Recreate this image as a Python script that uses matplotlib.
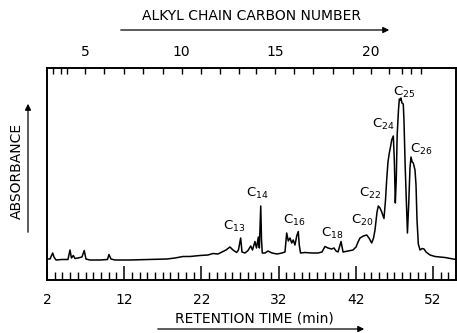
import numpy as np
import matplotlib
matplotlib.use("Agg")
import matplotlib.pyplot as plt

# trace : temps de retention (min) et absorbance (unites arbitraires)
retention_time = [
    2.04, 2.39, 2.74, 2.91, 3.17, 3.94, 4.72, 4.98, 5.17, 5.41, 5.63, 6.02, 6.53, 6.83,
    7.05, 7.57, 8.87, 9.84, 10.03, 10.29, 10.81, 12.75, 15.34, 17.54, 18.58, 19.62,
    20.52, 21.82, 22.85, 23.50, 24.15, 24.67, 25.19, 25.70, 26.09, 26.57, 26.80, 27.09,
    27.26, 27.65, 28.04, 28.39, 28.62, 28.94, 29.14, 29.38, 29.51, 29.69, 29.79, 29.89,
    30.24, 30.63, 31.15, 31.80, 32.44, 32.83, 33.05, 33.26, 33.48, 33.70, 33.90, 34.12,
    34.35, 34.55, 34.68, 34.84, 35.42, 36.33, 37.10, 37.62, 38.01, 38.40, 38.88, 39.18,
    39.44, 39.70, 40.09, 40.35, 40.99, 41.64, 42.03, 42.29, 42.55, 42.98, 43.41, 43.71,
    44.06, 44.30, 44.49, 44.75, 44.92, 45.14, 45.36, 45.65, 45.85, 46.00, 46.17, 46.34,
    46.52, 46.65, 46.86, 46.99, 47.12, 47.24, 47.36, 47.53, 47.64, 47.77, 47.85, 47.98,
    48.15, 48.24, 48.40, 48.57, 48.69, 48.85, 49.02, 49.15, 49.30, 49.45, 49.67, 49.80,
    49.93, 50.10, 50.32, 50.58, 50.84, 51.10, 51.61, 52.26, 53.55, 54.98,
]
absorbance = [
    1, 1, 7, 3, 0, 0.5, 0.5, 10, 2, 4.5, 1.5, 2, 3, 9.5,
    1, 0, 0, 0.5, 5.5, 1, 0, 0, 0.5, 1, 2, 3.5,
    3.5, 4.5, 5, 6.5, 6, 8, 10, 13, 10, 7.5, 10, 22,
    8, 7, 9.5, 14, 10, 18.5, 12, 23, 12, 54, 20, 7,
    7, 9, 7, 6, 7, 8, 27, 19, 22, 17, 20, 15,
    24, 28.5, 15, 7, 7.5, 7, 7, 8, 13.5, 12, 11, 12,
    9, 8, 18.5, 8, 9, 10, 13, 18, 22, 24, 25, 22,
    17, 22, 30, 48, 54, 52, 48, 41.5, 60, 80, 98, 107,
    114, 120, 124, 100, 57, 80, 125, 150, 161, 160, 162, 157,
    156, 140, 93, 55, 27, 55, 92, 103, 98, 97, 90, 75,
    40, 16, 10, 11.5, 11, 8, 5, 3.5, 2.5, 0.5,
]

# axe du haut : nombre de carbones de la chaine alkyle -> temps de retention
carbon_number = list(range(2, 25))
carbon_time = [
    2.74, 3.77, 4.63, 6.96, 9.42, 11.97, 14.47, 16.99, 19.45, 21.95, 24.41, 26.87,
    29.07, 31.53, 34.03, 36.49, 39.09, 41.60, 43.97, 46.30, 47.95, 49.15, 50.45,
]
carbon_labelled = [5, 10, 15, 20]

# etiquettes des pics
peak_names = ["13", "14", "16", "18", "20", "22", "24", "25", "26"]
peak_time = [26.22, 29.20, 33.99, 38.92, 42.80, 43.84, 45.52, 48.24, 50.45]
peak_height = [34, 67, 40, 27, 40, 67, 136, 168, 111]

W, H = 457, 333
fig = plt.figure(figsize=(W / 100, H / 100), dpi=100)
ax = fig.add_axes([46.5 / W, 1 - 280 / H, 409.5 / W, 212.5 / H])

ax.plot(retention_time, absorbance, color="black", lw=1.1)
ax.set_xlim(1.94, 54.98)
ax.set_ylim(-20, 192.5)

ax.set_xticks(np.arange(2, 53, 10))
ax.set_xticks(np.arange(2, 55, 1), minor=True)
ax.set_yticks([])
ax.tick_params(axis="x", which="major", direction="in", length=10, width=1.1,
               labelsize=10, pad=9)
ax.tick_params(axis="x", which="minor", direction="in", length=6, width=1.0)
for s in ax.spines.values():
    s.set_linewidth(1.4)

top = ax.twiny()
top.set_xlim(ax.get_xlim())
top.set_xticks(carbon_time)
top.set_xticklabels([str(c) if c in carbon_labelled else "" for c in carbon_number])
top.tick_params(axis="x", direction="in", length=4.5, width=1.0, labelsize=10, pad=6)
for s in top.spines.values():
    s.set_visible(False)

for name, t, h in zip(peak_names, peak_time, peak_height):
    ax.text(t, h, "C$_{" + name + "}$", ha="center", va="center", fontsize=9.5)

# titres et fleches
arrow = dict(arrowstyle="-|>", lw=0.9, color="black", mutation_scale=9)
fig.text(252 / W, 1 - 16 / H, "ALKYL CHAIN CARBON NUMBER", ha="center", va="center",
         fontsize=10)
fig.add_artist(matplotlib.patches.FancyArrowPatch(
    (118 / W, 1 - 30 / H), (392 / W, 1 - 30 / H), transform=fig.transFigure, **arrow))

fig.text(254 / W, 1 - 319 / H, "RETENTION TIME (min)", ha="center", va="center",
         fontsize=10)
fig.add_artist(matplotlib.patches.FancyArrowPatch(
    (155 / W, 1 - 329 / H), (367 / W, 1 - 329 / H), transform=fig.transFigure, **arrow))

fig.text(17 / W, 1 - 171 / H, "ABSORBANCE", ha="center", va="center", rotation=90,
         fontsize=10)
fig.add_artist(matplotlib.patches.FancyArrowPatch(
    (28 / W, 1 - 235 / H), (28 / W, 1 - 101 / H), transform=fig.transFigure, **arrow))

fig.savefig("out.png", dpi=100)
